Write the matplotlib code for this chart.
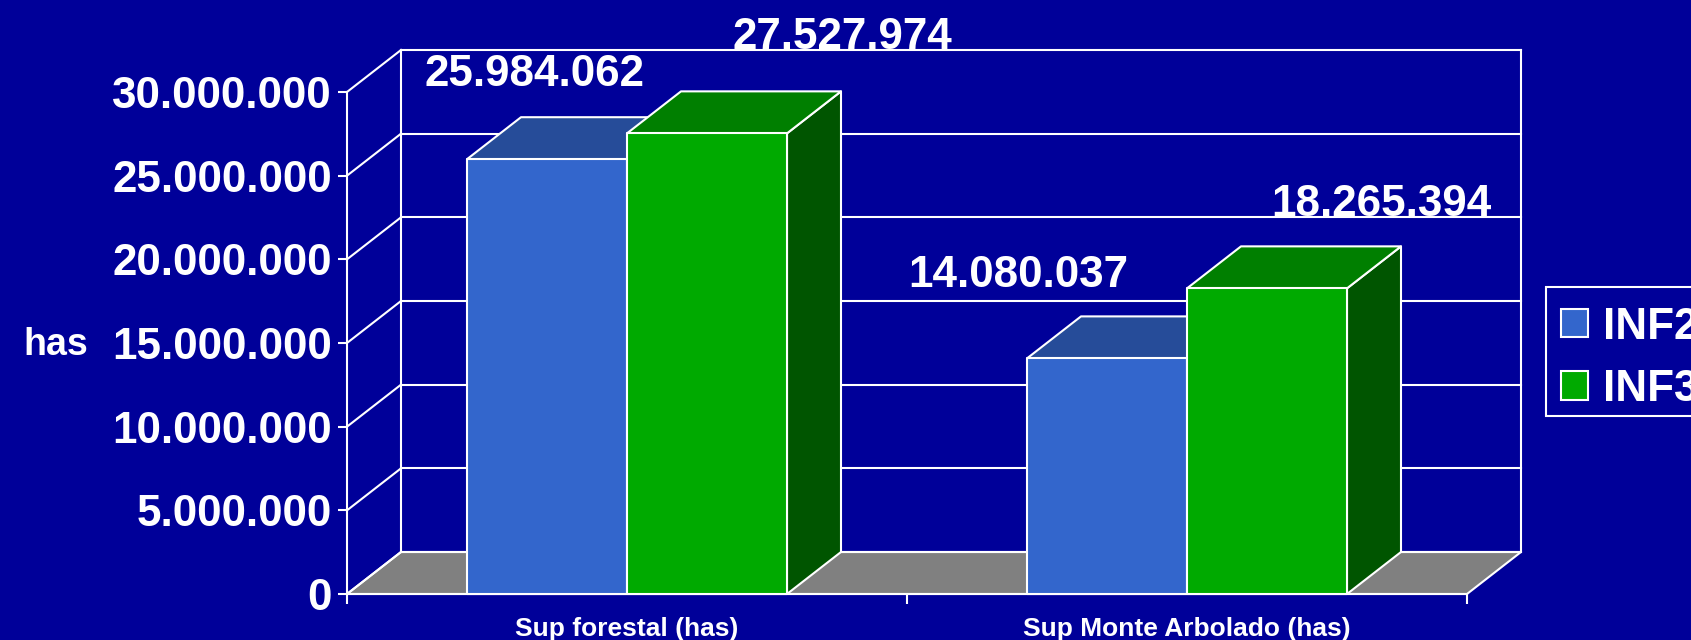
import matplotlib
matplotlib.use("Agg")
import matplotlib.pyplot as plt
from matplotlib.patches import Polygon, Patch, Rectangle
from matplotlib.font_manager import FontProperties

# ---------------- data ----------------
categories = ["Sup forestal (has)", "Sup Monte Arbolado (has)"]
series_names = ["INF2", "INF3"]
inf2_values = [25984062, 14080037]
inf3_values = [27527974, 18265394]
y_ticks = [0, 5000000, 10000000, 15000000, 20000000, 25000000, 30000000]
y_label = "has"

# ---------------- style ----------------
W, H, DPI = 1691, 640, 100
BG = "#000099"
FRONT = ["#3366CC", "#00AA00"]
TOP = ["#264C99", "#007F00"]
SIDE = ["#1A3366", "#005500"]
FLOOR = "#808080"
LW = 1.5
FONT = "Liberation Sans"
big = FontProperties(family=FONT, weight="bold", size=31.7)
cat_font = FontProperties(family=FONT, weight="bold", size=19)
ylab_font = FontProperties(family=FONT, weight="bold", size=27)

# label offsets (pixels) relative to the top-centre of each bar front face
label_offsets = [[(-13, 85), (-89, 83)], [(135, 96), (114, 84)]]

def fmt(v):
    return f"{v:,.0f}".replace(",", ".")

fig = plt.figure(figsize=(W / DPI, H / DPI), dpi=DPI, facecolor=BG)
ax = fig.add_axes([347 / W, 46 / H, 1120 / W, 502 / H])
ncat = len(categories)
ax.set_xlim(0, ncat)
ax.set_ylim(y_ticks[0], y_ticks[-1])
ax.patch.set_visible(False)

# depth offset (54 px right, 42 px up) expressed in data units
dx = 54 / ax.bbox.width * ncat
dy = 42 / ax.bbox.height * (y_ticks[-1] - y_ticks[0])
ymax = y_ticks[-1]

# floor
ax.add_patch(Polygon([(0, 0), (ncat, 0), (ncat + dx, dy), (dx, dy)], closed=True,
                     facecolor=FLOOR, edgecolor="white", lw=LW, clip_on=False, zorder=1))
# walls / gridlines
for v in y_ticks:
    ax.plot([0, dx], [v, v + dy], color="white", lw=LW, clip_on=False, zorder=1.2)
    ax.plot([dx, ncat + dx], [v + dy, v + dy], color="white", lw=LW, clip_on=False, zorder=1.2)
ax.plot([dx, dx], [dy, ymax + dy], color="white", lw=LW, clip_on=False, zorder=1.2)
ax.plot([ncat + dx, ncat + dx], [dy, ymax + dy], color="white", lw=LW, clip_on=False, zorder=1.2)

# bars
series = [inf2_values, inf3_values]
bar_w = 1 / 3.5  # gap width 150%
z = 3
for ci in range(ncat):
    for si, vals in enumerate(series):
        v = vals[ci]
        x0 = ci + 0.75 * bar_w + si * bar_w
        x1 = x0 + bar_w
        kw = dict(edgecolor="white", lw=LW, clip_on=False, joinstyle="round")
        ax.add_patch(Polygon([(x1, 0), (x1 + dx, dy), (x1 + dx, v + dy), (x1, v)],
                             facecolor=SIDE[si], zorder=z, **kw))
        ax.add_patch(Polygon([(x0, v), (x1, v), (x1 + dx, v + dy), (x0 + dx, v + dy)],
                             facecolor=TOP[si], zorder=z, **kw))
        ax.add_patch(Polygon([(x0, 0), (x1, 0), (x1, v), (x0, v)],
                             facecolor=FRONT[si], zorder=z, **kw))
        z += 1
        ox, oy = label_offsets[si][ci]
        ax.annotate(fmt(v), xy=((x0 + x1) / 2, v), xytext=(ox, oy),
                    textcoords="offset pixels", ha="center", va="center",
                    color="white", fontproperties=big, zorder=20,
                    annotation_clip=False)

# axes
for s in ["top", "right"]:
    ax.spines[s].set_visible(False)
for s in ["left", "bottom"]:
    ax.spines[s].set_color("white")
    ax.spines[s].set_linewidth(LW)
    ax.spines[s].set_zorder(2)
ax.set_yticks(y_ticks)
ax.set_yticklabels([fmt(v) for v in y_ticks])
ax.tick_params(axis="y", direction="out", length=6.5, width=LW, color="white",
               pad=4.5, labelcolor="white")
for t in ax.get_yticklabels():
    t.set_fontproperties(big)
ax.set_xticks([i + 0.5 for i in range(ncat)])
ax.set_xticklabels(categories)
ax.set_xticks(list(range(ncat + 1)), minor=True)
ax.tick_params(axis="x", which="major", length=0, pad=16.5, labelcolor="white")
ax.tick_params(axis="x", which="minor", direction="out", length=7, width=LW, color="white")
for t in ax.get_xticklabels():
    t.set_fontproperties(cat_font)

fig.text(56 / W, 1 - 345 / H, y_label, ha="center", va="center", color="white",
         fontproperties=ylab_font)

# legend
fig.add_artist(Rectangle((1546 / W, 1 - 416 / H), 200 / W, 129 / H,
                         transform=fig.transFigure, facecolor=BG, edgecolor="white",
                         lw=LW, zorder=4))
handles = [Patch(facecolor=FRONT[i], edgecolor="white", lw=LW) for i in range(len(series_names))]
leg = fig.legend(handles, series_names, loc="upper left",
                 bbox_to_anchor=(1552 / W, 1 - 298 / H), prop=big, labelcolor="white",
                 frameon=False, borderpad=0.2, handlelength=0.61, handleheight=0.61,
                 handletextpad=0.35, labelspacing=0.48, borderaxespad=0)
leg.set_zorder(5)

fig.savefig("out.png", dpi=DPI, facecolor=BG)
